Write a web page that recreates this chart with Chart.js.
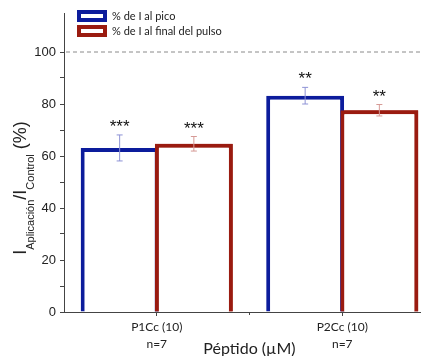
<!DOCTYPE html>
<html>
<head>
<meta charset="utf-8">
<script src="https://cdn.jsdelivr.net/npm/chart.js@4.4.1/dist/chart.umd.min.js"></script>
<style>
  html, body { margin: 0; padding: 0; background: #fff; overflow: hidden; }
  #wrap { width: 435px; height: 356px; }
</style>
</head>
<body>
<div id="wrap"><canvas id="barChart" width="435" height="356"></canvas></div>
<script>
const categories = ['P1Cc (10)', 'P2Cc (10)']
const nLabels = ['n=7', 'n=7']
const seriesLabels = ['% de I al pico', '% de I al final del pulso']
const picoValues = [63.1, 83.2]
const picoErrors = [5.0, 3.2]
const finalValues = [64.7, 77.6]
const finalErrors = [2.8, 2.2]
const picoStars = ['***', '**']
const finalStars = ['***', '**']
const yTicks = [0, 20, 40, 60, 80, 100]
const refLine = 100

const blue = '#0c1c9c'
const red = '#9a1b10'

// error bars, significance stars, reference line, legend and axis titles
const extras = {
  id: 'extras',
  beforeDatasetsDraw(chart) {
    const { ctx, chartArea, scales } = chart
    const y = scales.y.getPixelForValue(refLine)
    ctx.save()
    ctx.strokeStyle = '#8a8a8a'
    ctx.lineWidth = 1
    ctx.setLineDash([4, 3])
    ctx.beginPath()
    ctx.moveTo(chartArea.left + 2, y)
    ctx.lineTo(chartArea.right, y)
    ctx.stroke()
    ctx.restore()
  },
  afterDatasetsDraw(chart) {
    const { ctx, chartArea, scales } = chart
    const ys = scales.y
    ctx.save()
    // second series sits on top of the first one where they overlap
    chart.getDatasetMeta(1).data.forEach(el => el.draw(ctx))

    const groups = [
      { vals: picoValues, errs: picoErrors, stars: picoStars, col: '#8e93d6' },
      { vals: finalValues, errs: finalErrors, stars: finalStars, col: '#d69a96' }
    ]
    groups.forEach((g, di) => {
      const meta = chart.getDatasetMeta(di)
      g.vals.forEach((v, i) => {
        const x = meta.data[i].x
        const top = ys.getPixelForValue(v + g.errs[i])
        const bot = ys.getPixelForValue(v - g.errs[i])
        ctx.strokeStyle = g.col
        ctx.lineWidth = 1
        ctx.beginPath()
        ctx.moveTo(x, top); ctx.lineTo(x, bot)
        ctx.moveTo(x - 3, top); ctx.lineTo(x + 3, top)
        ctx.moveTo(x - 3, bot); ctx.lineTo(x + 3, bot)
        ctx.stroke()
        ctx.fillStyle = '#111'
        ctx.font = '17px "Liberation Sans", Arial'
        ctx.textAlign = 'center'
        ctx.textBaseline = 'alphabetic'
        ctx.fillText(g.stars[i], x, top - 3)
      })
    })

    // middle tick between the two categories
    const xs = scales.x
    const mid = (xs.getPixelForValue(0) + xs.getPixelForValue(1)) / 2
    ctx.strokeStyle = '#444'
    ctx.lineWidth = 1
    ctx.beginPath()
    ctx.moveTo(mid, chartArea.bottom)
    ctx.lineTo(mid, chartArea.bottom + 3)
    ctx.stroke()

    // legend
    const cols = [blue, red]
    const rowsY = [16, 31]
    seriesLabels.forEach((lab, i) => {
      ctx.strokeStyle = cols[i]
      ctx.lineWidth = 4
      ctx.strokeRect(79, rowsY[i] - 4, 26, 8)
      ctx.fillStyle = '#222'
      ctx.font = '11px Lato, "Open Sans", sans-serif'
      ctx.textAlign = 'left'
      ctx.textBaseline = 'middle'
      ctx.fillText(lab, 112, rowsY[i])
    })

    // x axis title
    ctx.fillStyle = '#222'
    ctx.font = '16px Lato, "Open Sans", sans-serif'
    ctx.textAlign = 'center'
    ctx.textBaseline = 'top'
    ctx.fillText('Péptido (µM)', mid, 341)

    // y axis title with subscripts
    const parts = [
      { t: 'I', big: true },
      { t: 'Aplicación', big: false },
      { t: '/', big: true },
      { t: 'I', big: true },
      { t: 'Control', big: false },
      { t: ' (%)', big: true }
    ]
    const bigFont = '18px "Liberation Sans", Arial'
    const smallFont = '11px "Liberation Sans", Arial'
    let total = 0
    parts.forEach(p => {
      ctx.font = p.big ? bigFont : smallFont
      p.w = ctx.measureText(p.t).width
      total += p.w
    })
    ctx.translate(26, 188)
    ctx.rotate(-Math.PI / 2)
    ctx.textAlign = 'left'
    ctx.textBaseline = 'alphabetic'
    let px = -total / 2
    parts.forEach(p => {
      ctx.font = p.big ? bigFont : smallFont
      ctx.fillText(p.t, px, p.big ? 0 : 8)
      px += p.w
    })
    ctx.restore()
  }
}

new Chart(document.getElementById('barChart').getContext('2d'), {
  type: 'bar',
  data: {
    labels: categories.map((c, i) => [c, nLabels[i]]),
    datasets: [
      {
        label: seriesLabels[0],
        data: picoValues,
        backgroundColor: '#ffffff',
        borderColor: blue,
        borderWidth: 4,
        borderSkipped: 'bottom'
      },
      {
        label: seriesLabels[1],
        data: finalValues,
        backgroundColor: '#ffffff',
        borderColor: red,
        borderWidth: 4,
        borderSkipped: 'bottom'
      }
    ]
  },
  options: {
    responsive: false,
    animation: false,
    layout: { padding: { top: 13, right: 0, left: 0, bottom: 0 } },
    categoryPercentage: 0.8,
    barPercentage: 1.05,
    plugins: {
      legend: { display: false },
      tooltip: { enabled: false }
    },
    scales: {
      x: {
        afterFit: scale => { scale.height = 44 },
        border: { color: '#444', width: 1 },
        grid: { display: true, drawOnChartArea: false, offset: false, tickLength: 4, color: '#444' },
        ticks: {
          color: '#222',
          font: { family: 'Lato, "Open Sans", sans-serif', size: 12, lineHeight: 1.45 },
          padding: 2,
          maxRotation: 0
        }
      },
      y: {
        min: 0,
        max: 115,
        afterFit: scale => { scale.width = 64 },
        afterBuildTicks: scale => {
          scale.ticks = scale.ticks.filter(t => t.value % 10 === 0)
        },
        border: { color: '#444', width: 1 },
        grid: { display: true, drawOnChartArea: false, tickLength: 4, color: '#444' },
        ticks: {
          stepSize: 10,
          color: '#222',
          padding: 4,
          font: { family: '"Liberation Sans", Arial', size: 13 },
          callback: v => (yTicks.includes(v) ? v : '')
        }
      }
    }
  },
  plugins: [extras]
})
</script>
</body>
</html>
